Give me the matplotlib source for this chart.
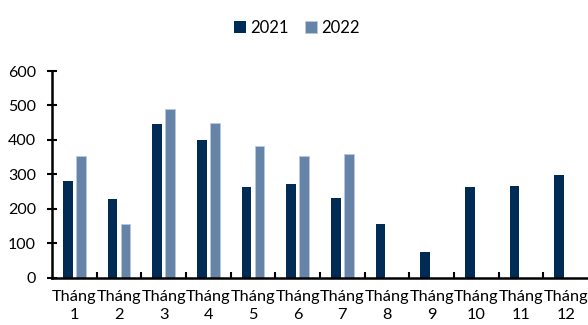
import matplotlib
matplotlib.use("Agg")
import matplotlib.pyplot as plt
import numpy as np

months = ["Tháng\n1", "Tháng\n2", "Tháng\n3", "Tháng\n4", "Tháng\n5", "Tháng\n6",
          "Tháng\n7", "Tháng\n8", "Tháng\n9", "Tháng\n10", "Tháng\n11", "Tháng\n12"]
v2021 = [281, 229, 446, 401, 264, 271, 231, 155, 75, 262, 267, 298]
v2022 = [352, 155, 490, 449, 382, 352, 360, np.nan, np.nan, np.nan, np.nan, np.nan]
yticks = [0, 100, 200, 300, 400, 500, 600]

plt.rcParams['font.family'] = ['Lato', 'DejaVu Sans']

fig = plt.figure(figsize=(5.88, 3.25), dpi=100)
ax = fig.add_axes([0.0884, 0.1455, 0.9116, 0.636])

x = np.arange(len(months))
w = 0.22
off = 0.145
ax.bar(x - off, v2021, width=w, color='#002b55', label='2021', zorder=2)
ax.bar(x + off, v2022, width=w, color='#6683a8', edgecolor='#b9c8dc', linewidth=0.6, label='2022', zorder=2)

ax.set_xlim(-0.5, len(months) - 0.5)
ax.set_ylim(0, 600)
ax.set_yticks(yticks)
ax.set_xticks(x)
ax.set_xticklabels(months, fontsize=11.8, linespacing=1.35)
ax.set_xticks(np.arange(0.5, len(months) - 0.5, 1), minor=True)
ax.tick_params(axis='x', which='major', length=0, pad=9)
ax.tick_params(axis='x', which='minor', direction='in', length=4, width=1.5, color='black')
ax.tick_params(axis='y', direction='inout', length=7, width=1.5, labelsize=11.5, pad=8)

for s in ['top', 'right']:
    ax.spines[s].set_visible(False)
for s in ['left', 'bottom']:
    ax.spines[s].set_linewidth(1.8)
    ax.spines[s].set_color('black')

fig.legend(loc='upper center', bbox_to_anchor=(0.505, 0.985), ncol=2, frameon=False,
           fontsize=12, handlelength=0.7, handleheight=0.7, handletextpad=0.25, columnspacing=1.0)

fig.savefig('out.png', dpi=100)
